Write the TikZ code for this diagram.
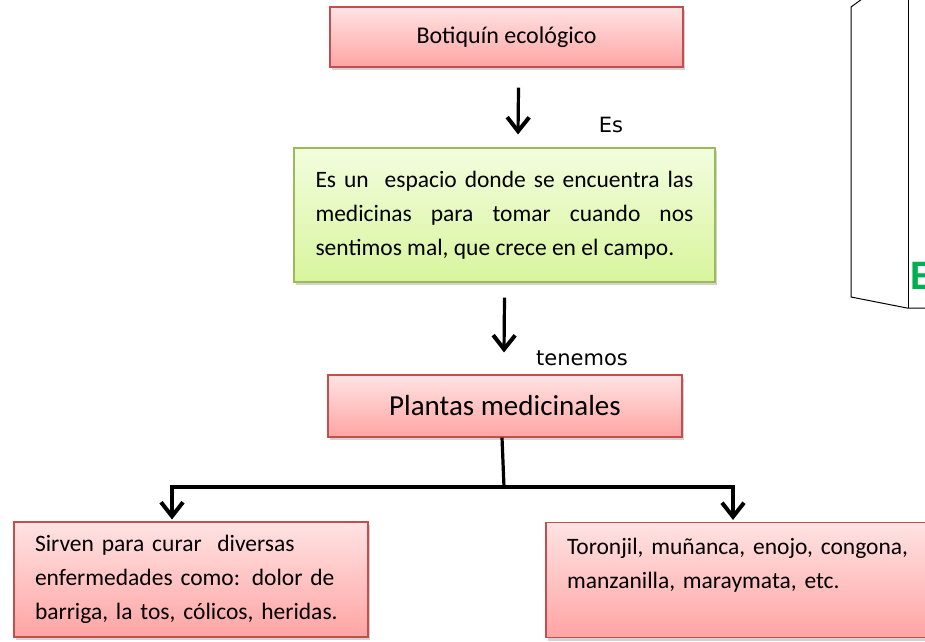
\documentclass[tikz,border=0pt]{standalone}
\usepackage{fontspec}
\setmainfont{Carlito}
\newfontfamily\tagfont{DejaVu Sans}
\usetikzlibrary{arrows.meta,shadows}
\definecolor{boxred}{HTML}{C0504D}
\definecolor{pinktop}{HTML}{FFE3E3}
\definecolor{pinkbot}{HTML}{FFA4A4}
\definecolor{boxgreen}{HTML}{9BBB59}
\definecolor{greentop}{HTML}{F3FDDF}
\definecolor{greenbot}{HTML}{D8F59C}
\definecolor{titlegreen}{HTML}{00B050}

\begin{document}
\begin{tikzpicture}[x=1pt,y=-1pt,
  redbox/.style={draw=boxred, line width=1.1pt, top color=pinktop, bottom color=pinkbot,
    drop shadow={shadow xshift=2pt,shadow yshift=-3pt,opacity=0.35}},
  greenbox/.style={redbox, draw=boxgreen, top color=greentop, bottom color=greenbot},
  body/.style={font=\fontsize{23.5}{34}\selectfont},
  link/.style={line width=3.2pt, -{Straight Barb[length=14pt,width=22pt,line width=4pt]}},
  tag/.style={font=\tagfont\fontsize{21}{24}\selectfont}]
\clip (0,0) rectangle (925,641);

% boxes
\node[redbox, minimum width=353pt, minimum height=60pt, font=\fontsize{24}{28}\selectfont]
  (botiquin) at (506.5,37) {Botiquín ecológico};
\node[greenbox, body, minimum width=421pt, minimum height=134pt, text width=378pt, align=justify]
  (espacio) at (504.5,215)
  {Es un\ \ espacio donde se encuentra las\linebreak medicinas para tomar cuando nos\linebreak sentimos mal, que crece en el campo.};
\node[redbox, minimum width=354pt, minimum height=62pt, font=\fontsize{29}{32}\selectfont]
  (plantas) at (505,406) {Plantas medicinales};
\node[redbox, body, minimum width=354pt, minimum height=115pt, text width=312pt, align=left]
  (sirven) at (191,579.5)
  {Sirven para curar\ \ diversas\\ enfermedades como: dolor de\\ barriga, la tos, cólicos, heridas.};
\node[redbox, body, minimum width=385pt, minimum height=115pt, text width=343pt, align=left]
  (toronjil) at (738.5,580)
  {Toronjil, muñanca, enojo, congona,\\ manzanilla, maraymata, etc.\\ \mbox{}};

% labels
\node[tag] (es) at (611,125) {Es};
\node[tag] (tenemos) at (582,358) {tenemos};

% connectors
\draw[link] ([xshift=12pt,yshift=-20pt]botiquin.south) -- ([xshift=13.5pt,yshift=13pt]espacio.north);
\draw[link] ([yshift=-15pt]espacio.south) -- ([xshift=-1pt,yshift=22pt]plantas.north);
\coordinate (split) at (504,487);
\draw[line width=3.2pt] ([xshift=-3pt]plantas.south) -- (split);
\draw[link, line width=3.6pt] (split) -| ([xshift=-19pt,yshift=2pt]sirven.north);
\draw[link, line width=3.6pt] (split) -| ([xshift=-5.5pt,yshift=2pt]toronjil.north);

% folded sheet at the right edge
\draw[line width=1pt] (862,-1) -- (851,7) -- (851,297) -- (907,308) -- (926,308);
\draw[line width=1pt] (908,-1) -- (908,308);
\node[anchor=base west, inner sep=0pt, text=titlegreen, font=\bfseries\fontsize{42}{44}\selectfont]
  (titulo) at (910,289) {E};
\end{tikzpicture}
\end{document}
